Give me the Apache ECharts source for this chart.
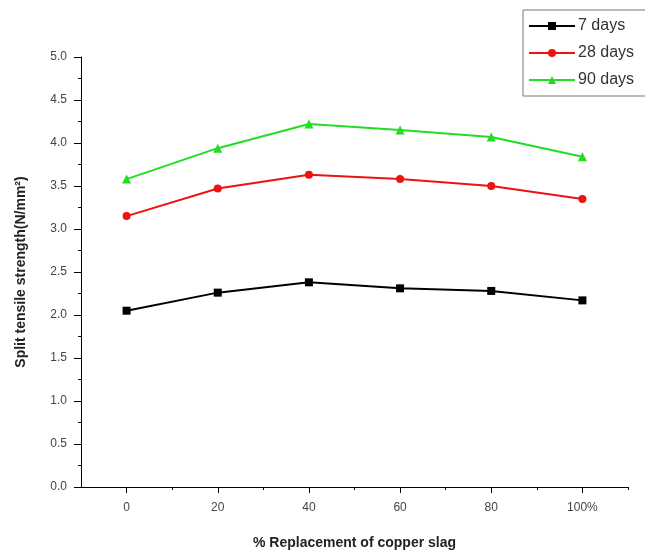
<!DOCTYPE html>
<html>
<head>
<meta charset="utf-8">
<script src="https://cdn.jsdelivr.net/npm/echarts@6/dist/echarts.min.js"></script>
<style>
  html, body { margin: 0; padding: 0; background: #fff; }
  #chart { width: 645px; height: 555px; }
</style>
</head>
<body>
<div id="chart"></div>
<script>
// 数据
const replacement = [0, 20, 40, 60, 80, 100]
const days7 = [2.05, 2.26, 2.38, 2.31, 2.28, 2.17]
const days28 = [3.15, 3.47, 3.63, 3.58, 3.5, 3.35]
const days90 = [3.58, 3.94, 4.22, 4.15, 4.07, 3.84]
const majorTicks = [0, 20, 40, 60, 80, 100]
const minorTicks = [10, 30, 50, 70, 90, 110]

const pairs = (ys) => replacement.map((x, i) => [x, ys[i]])

let myChart = echarts.init(document.getElementById('chart'))
let font = 'Arial, "Liberation Sans", sans-serif'

let option = {
  animation: false,
  grid: {
    left: 81,
    right: 17,
    top: 57,
    bottom: 66,
  },
  legend: {
    orient: 'vertical',
    left: 523,
    top: 10,
    padding: [8, 30, 8, 5],
    itemGap: 11,
    itemWidth: 46,
    itemHeight: 10,
    borderColor: '#777',
    borderWidth: 1,
    textStyle: {
      fontFamily: font,
      fontSize: 16,
      color: '#333',
      padding: [0, 0, 0, -2],
    },
    data: ['7 days', '28 days', '90 days'],
  },
  xAxis: [
    {
      type: 'value',
      min: -10,
      max: 110,
      name: '% Replacement of copper slag',
      nameLocation: 'middle',
      nameGap: 49,
      nameTextStyle: {
        fontFamily: font,
        fontSize: 14,
        fontWeight: 'bold',
        color: '#222',
      },
      splitLine: { show: false },
      axisLine: { onZero: false, lineStyle: { color: '#000', width: 1 } },
      axisTick: {
        customValues: majorTicks,
        length: 6,
        lineStyle: { color: '#000' },
      },
      axisLabel: {
        customValues: majorTicks,
        fontFamily: font,
        fontSize: 12,
        color: '#444',
        margin: 15,
        formatter: (v) => (v === 100 ? '100%' : v),
      },
    },
    {
      type: 'value',
      min: -10,
      max: 110,
      position: 'bottom',
      splitLine: { show: false },
      axisLine: { show: false },
      axisLabel: { show: false },
      axisTick: {
        customValues: minorTicks,
        length: 3,
        lineStyle: { color: '#000' },
      },
    },
  ],
  yAxis: {
    type: 'value',
    min: 0,
    max: 5,
    interval: 0.5,
    name: 'Split tensile strength(N/mm²)',
    nameLocation: 'middle',
    nameGap: 53,
    nameTextStyle: {
      fontFamily: font,
      fontSize: 14,
      fontWeight: 'bold',
      color: '#222',
    },
    splitLine: { show: false },
    axisLine: { show: true, onZero: false, lineStyle: { color: '#000', width: 1 } },
    axisTick: { length: 7, lineStyle: { color: '#000' } },
    minorTick: { show: true, splitNumber: 2, length: 3, lineStyle: { color: '#000' } },
    axisLabel: {
      fontFamily: font,
      fontSize: 12,
      color: '#444',
      margin: 14,
      formatter: (v) => v.toFixed(1),
    },
  },
  series: [
    {
      name: '7 days',
      type: 'line',
      data: pairs(days7),
      symbol: 'rect',
      symbolSize: 8,
      color: '#000000',
      lineStyle: { width: 2 },
    },
    {
      name: '28 days',
      type: 'line',
      data: pairs(days28),
      symbol: 'circle',
      symbolSize: 8,
      color: '#ee1111',
      lineStyle: { width: 2 },
    },
    {
      name: '90 days',
      type: 'line',
      data: pairs(days90),
      symbol: 'triangle',
      symbolSize: 9,
      color: '#22dd22',
      lineStyle: { width: 2 },
    },
  ],
}

myChart.setOption(option)
</script>
</body>
</html>
